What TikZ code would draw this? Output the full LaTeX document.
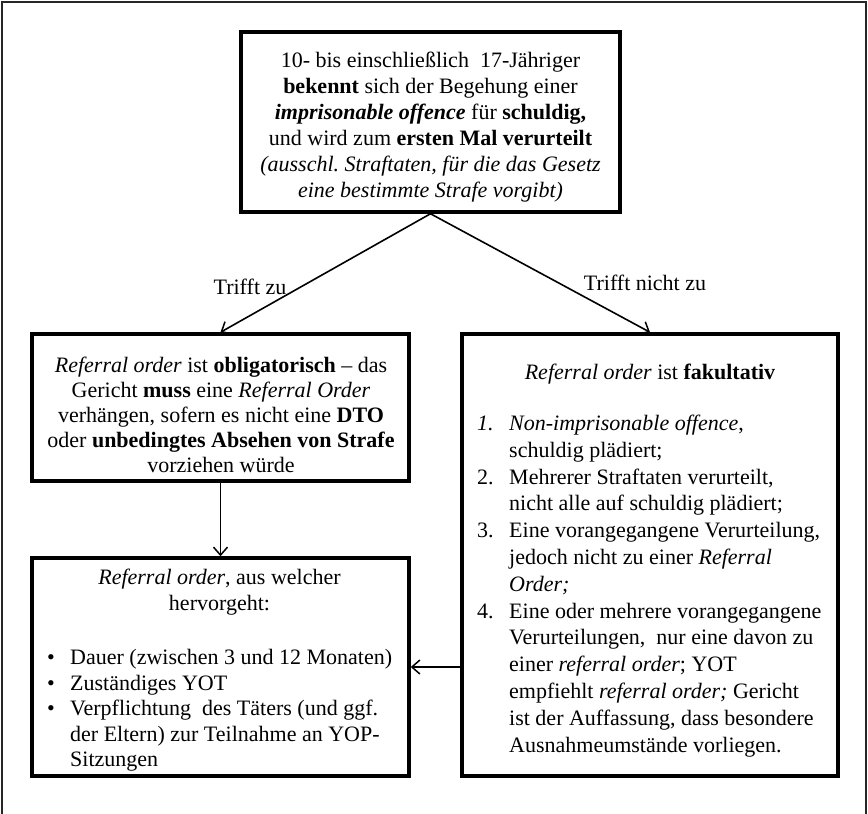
\documentclass[tikz,border=0pt]{standalone}
\usepackage{fontspec}
\setmainfont{Liberation Serif}
\usetikzlibrary{arrows.meta}
\begin{document}
\begin{tikzpicture}[x=1pt,y=-1pt,
  box/.style={draw=black, line width=3.5pt, inner sep=0pt, rectangle},
  conn/.style={line width=1.6pt, -{Straight Barb[length=8pt,width=14pt,line width=1.5pt]}},
  txt/.style={inner sep=0pt, font=\fontsize{22}{26}\selectfont},
  frame/.style={line width=1.3pt, draw=black!85}]
\useasboundingbox (0,0) rectangle (868,814);
\draw[frame] (2,2) rectangle (866,830);

% boxes
\node[box, minimum width=379pt, minimum height=180pt] (top) at (430.5,122) {};
\node[box, minimum width=377pt, minimum height=147pt] (left) at (220.5,407.5) {};
\node[box, minimum width=376pt, minimum height=442pt] (right) at (650,555) {};
\node[box, minimum width=377pt, minimum height=218pt] (bl) at (220.5,667) {};

% texts
\node[txt, anchor=base] (toptext) at (430.5,67.5) {\begin{tabular}[t]{@{}c@{}}
10- bis einschließlich\ \ 17-Jähriger\\
\textbf{bekennt} sich der Begehung einer\\
\textbf{\textit{imprisonable offence}} für \textbf{schuldig,}\\
und wird zum \textbf{ersten Mal verurteilt}\\
\textit{(ausschl.\ Straftaten, für die das Gesetz}\\
\textit{eine bestimmte Strafe vorgibt)}
\end{tabular}};

\node[txt, anchor=base, font=\fontsize{22}{25}\selectfont] (lefttext) at (221,372.5) {\begin{tabular}[t]{@{}c@{}}
\textit{Referral order} ist \textbf{obligatorisch} – das\\
Gericht \textbf{muss} eine \textit{Referral Order}\\
verhängen, sofern es nicht eine \textbf{DTO}\\
oder \textbf{unbedingtes Absehen von Strafe}\\
vorziehen würde
\end{tabular}};

\node[txt, anchor=base] (rhead) at (650,379.5) {\textit{Referral order} ist \textbf{fakultativ}};

\node[txt, anchor=base west, font=\fontsize{22}{26.8}\selectfont] (rlist) at (477,430.5) {\begin{tabular}[t]{@{}p{32pt}@{}l@{}}
\textit{1.} & \textit{Non-imprisonable offence},\\
 & schuldig plädiert;\\
2. & Mehrerer Straftaten verurteilt,\\
 & nicht alle auf schuldig plädiert;\\
3. & Eine vorangegangene Verurteilung,\\
 & jedoch nicht zu einer \textit{Referral}\\
 & \textit{Order;}\\
4. & Eine oder mehrere vorangegangene\\
 & Verurteilungen,\ \ nur eine davon zu\\
 & einer \textit{referral order}; YOT\\
 & empfiehlt \textit{referral order;} Gericht\\
 & ist der Auffassung, dass besondere\\
 & Ausnahmeumstände vorliegen.
\end{tabular}};

\node[txt, anchor=base] (blhead) at (219.5,584.5) {\begin{tabular}[t]{@{}c@{}}
\textit{Referral order}, aus welcher\\
hervorgeht:
\end{tabular}};

\node[txt, anchor=base west, font=\fontsize{22}{25.5}\selectfont] (bllist) at (47,664.5) {\begin{tabular}[t]{@{}p{23pt}@{}l@{}}
\textbullet & Dauer (zwischen 3 und 12 Monaten)\\
\textbullet & Zuständiges YOT\\
\textbullet & Verpflichtung\ \ des Täters (und ggf.\\
 & der Eltern) zur Teilnahme an YOP-\\
 & Sitzungen
\end{tabular}};

% connectors
\draw[conn] (top.south) -- (left.north);
\draw[conn] (top.south) -- (right.north);
\draw[conn] (left.south) -- (bl.north);
\draw[conn] (right.west |- bl.east) -- (bl.east);

% labels
\node[txt] (lblL) at (250,287) {Trifft zu};
\node[txt] (lblR) at (645,283) {Trifft nicht zu};
\end{tikzpicture}
\end{document}
